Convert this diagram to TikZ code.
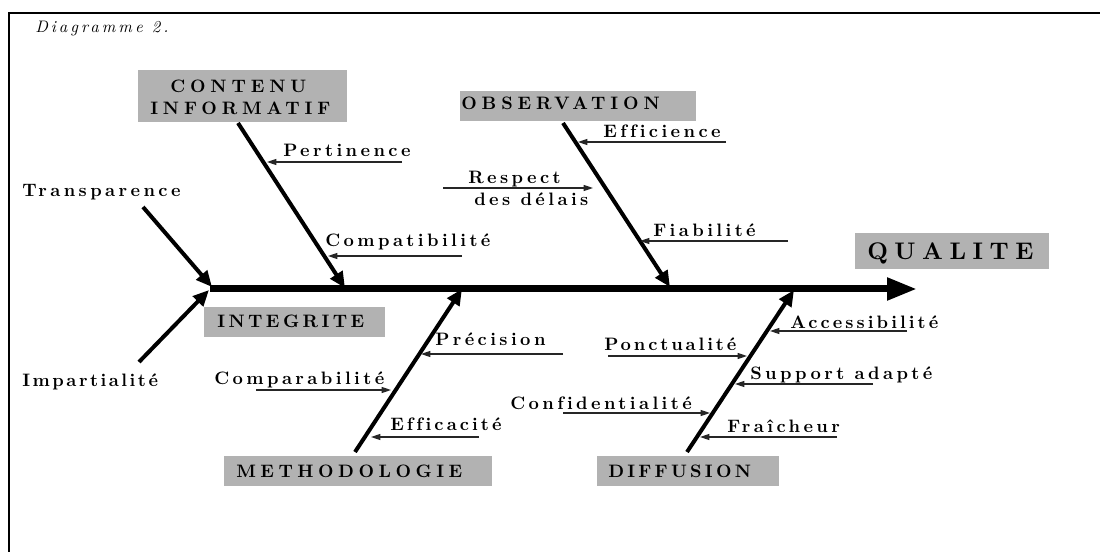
\documentclass[tikz,border=0pt]{standalone}
\usepackage{fontspec}
\setmainfont{lmroman10-regular.otf}[BoldFont=lmroman10-bold.otf, ItalicFont=lmroman10-italic.otf, BoldItalicFont=lmroman10-bolditalic.otf]
\usetikzlibrary{arrows.meta,fit}
\begin{document}
\begin{tikzpicture}[x=0.75pt,y=-0.75pt,
  lab/.style={font=\fontsize{13.5}{15}\selectfont\bfseries\addfontfeature{LetterSpace=#1,Ligatures=NoCommon}, inner sep=0pt, anchor=base west},
  lab/.default=19,
  blab/.style={font=\fontsize{13.5}{15}\selectfont\bfseries\addfontfeature{LetterSpace=#1,Ligatures=NoCommon}, inner sep=0pt, anchor=base west},
  blab/.default=27,
  qlab/.style={font=\fontsize{18}{20}\selectfont\bfseries\addfontfeature{LetterSpace=27}, inner sep=0pt, anchor=base west},
  box/.style={fill=black!30, draw=none, inner sep=0pt},
  branch/.style={line width=3pt, -{Triangle[length=12pt,width=10.5pt]}},
  thin/.style={line width=0.9pt, black!85, -{Triangle[length=7pt,width=4.5pt]}},
  spine/.style={line width=5.25pt, -{Triangle[length=22.5pt,width=16pt]}},
  frame/.style={line width=1.1pt}
]
\useasboundingbox (0,0) rectangle (1100,552);
% frame
\coordinate (fr) at (1100,13);
\coordinate (fc) at (9,13);
\coordinate (fb) at (9,552);
\draw[frame] (fr) -- (fc) -- (fb);
\node[font=\fontsize{12.5}{14}\selectfont\itshape\addfontfeature{LetterSpace=18}, inner sep=0pt, anchor=base west] (diag) at (35,33) {Diagramme 2.};

% boxes
\node[box, fit={(138,70) (347,122)}] (contbox) {};
\node[blab] (cont1) at (170,93) {CONTENU};
\node[blab] (cont2) at (150,115) {INFORMATIF};
\node[box, fit={(460,91) (696,121)}] (obsbox) {};
\node[blab] (obs) at (461,110) {OBSERVATION};
\node[box, fit={(855,233) (1049,269)}] (qbox) {};
\node[qlab] (qual) at (867,260) {QUALITE};
\node[box, fit={(204,307) (385,337)}] (intbox) {};
\node[blab=19] (integ) at (217,328) {INTEGRITE};
\node[box, fit={(224,456) (492,486)}] (metbox) {};
\node[blab=25] (meth) at (236,477) {METHODOLOGIE};
\node[box, fit={(597,456) (779,486)}] (difbox) {};
\node[blab=18] (diff) at (608,477) {DIFFUSION};

% spine
\coordinate (s0) at (210,289);
\coordinate (s1) at (917,289);
\draw[spine] (s0) -- (s1);

% branches
\coordinate (tr0) at (143,207); \coordinate (tr1) at (212,287);
\coordinate (im0) at (139,362); \coordinate (im1) at (209,290);
\coordinate (ct0) at (238,123); \coordinate (ct1) at (345,288);
\coordinate (ob0) at (563,123); \coordinate (ob1) at (670,287);
\coordinate (me0) at (355,452); \coordinate (me1) at (462,289);
\coordinate (di0) at (687,452); \coordinate (di1) at (794,290);
\draw[branch] (tr0) -- (tr1);
\draw[branch] (im0) -- (im1);
\draw[branch] (ct0) -- (ct1);
\draw[branch] (ob0) -- (ob1);
\draw[branch] (me0) -- (me1);
\draw[branch] (di0) -- (di1);

% labels
\node[lab] (transp) at (22,197) {Transparence};
\node[lab=14] (impart) at (22,387) {Impartialité};
\node[lab] (pert) at (283,157) {Pertinence};
\node[lab] (compat) at (325,247) {Compatibilité};
\node[lab] (effic) at (603,138) {Efficience};
\node[lab] (resp1) at (468,184) {Respect};
\node[lab] (resp2) at (474,206) {des délais};
\node[lab] (fiab) at (653,237) {Fiabilité};
\node[lab] (prec) at (435,346) {Précision};
\node[lab] (compar) at (214,384) {Comparabilité};
\node[lab=17] (effca) at (390,431) {Efficacité};
\node[lab=17] (access) at (790,329) {Accessibilité};
\node[lab=16] (ponct) at (604,351) {Ponctualité};
\node[lab] (supp) at (750,379) {Support adapté};
\node[lab] (conf) at (510,409) {Confidentialité};
\node[lab] (fraich) at (727,432) {Fraîcheur};

% thin arrows
\coordinate (pe0) at (402,162); \coordinate (pe1) at (267,162);
\coordinate (co0) at (462,256); \coordinate (co1) at (328,256);
\coordinate (ef0) at (726,142); \coordinate (ef1) at (578,142);
\coordinate (re0) at (443,188); \coordinate (re1) at (593,188);
\coordinate (fi0) at (788,241); \coordinate (fi1) at (640,241);
\coordinate (pr0) at (563,354); \coordinate (pr1) at (421,354);
\coordinate (cp0) at (256,390); \coordinate (cp1) at (391,390);
\coordinate (ea0) at (479,437); \coordinate (ea1) at (371,437);
\coordinate (ac0) at (907,331); \coordinate (ac1) at (770,331);
\coordinate (po0) at (608,356); \coordinate (po1) at (747,356);
\coordinate (su0) at (873,384); \coordinate (su1) at (735,384);
\coordinate (cf0) at (563,413); \coordinate (cf1) at (710,413);
\coordinate (fr0) at (837,437); \coordinate (fr1) at (700,437);
\draw[thin] (pe0) -- (pe1);
\draw[thin] (co0) -- (co1);
\draw[thin] (ef0) -- (ef1);
\draw[thin] (re0) -- (re1);
\draw[thin] (fi0) -- (fi1);
\draw[thin] (pr0) -- (pr1);
\draw[thin] (cp0) -- (cp1);
\draw[thin] (ea0) -- (ea1);
\draw[thin] (ac0) -- (ac1);
\draw[thin] (po0) -- (po1);
\draw[thin] (su0) -- (su1);
\draw[thin] (cf0) -- (cf1);
\draw[thin] (fr0) -- (fr1);
\end{tikzpicture}
\end{document}
